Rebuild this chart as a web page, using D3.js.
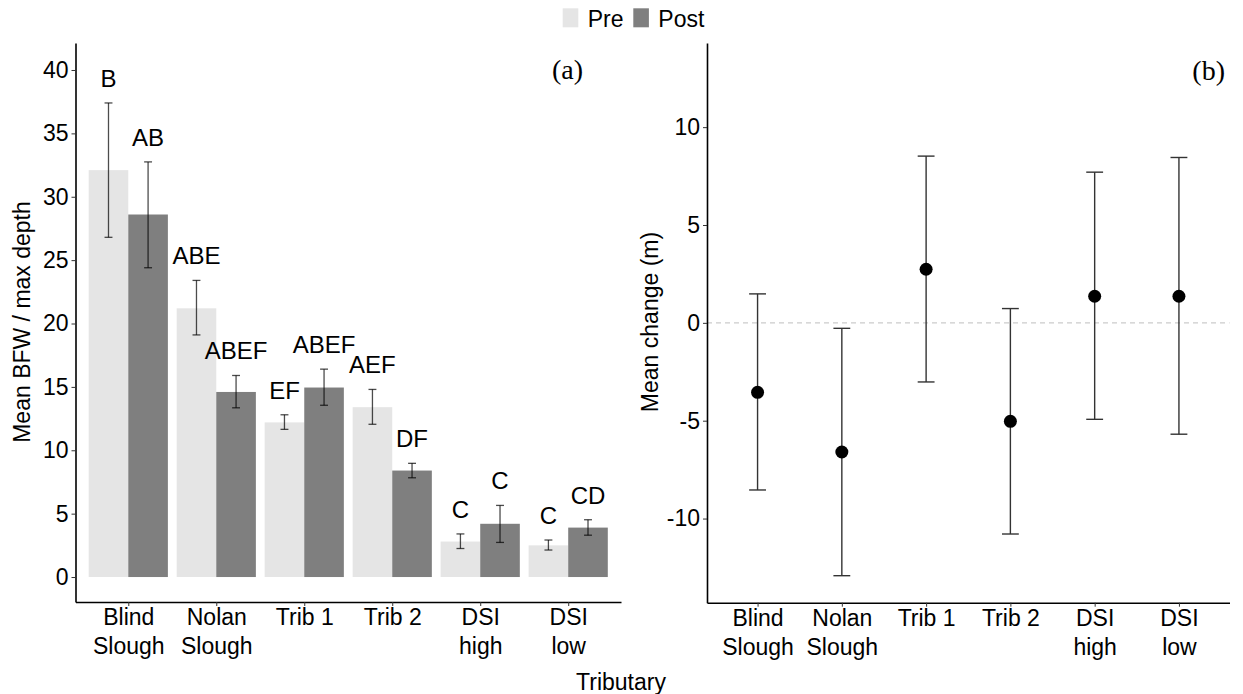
<!DOCTYPE html>
<html>
<head>
<meta charset="utf-8">
<script src="https://cdn.jsdelivr.net/npm/d3@7"></script>
<style>
  body { margin: 0; background: #fff; }
  svg text { font-family: "Liberation Sans", Arial, sans-serif; fill: #000; }
  .axis path, .axis line { stroke: #000; }
  .axis .tick line { stroke: #333; }
</style>
</head>
<body>
<div id="chart"></div>
<script>
// tributaries and tick labels (two lines each)
const tribs = ["Blind Slough", "Nolan Slough", "Trib 1", "Trib 2", "DSI high", "DSI low"];
const tribLabels = [["Blind", "Slough"], ["Nolan", "Slough"], ["Trib 1"], ["Trib 2"], ["DSI", "high"], ["DSI", "low"]];
const periods = ["Pre", "Post"];

// panel (a): mean BFW / max depth with error bars
const preMean = [32.1, 21.2, 12.2, 13.4, 2.8, 2.5];
const preLo = [26.8, 19.1, 11.65, 12.05, 2.25, 2.13];
const preHi = [37.4, 23.4, 12.8, 14.8, 3.4, 2.92];
const postMean = [28.6, 14.6, 14.95, 8.4, 4.2, 3.9];
const postLo = [24.4, 13.35, 13.55, 7.83, 2.73, 3.3];
const postHi = [32.75, 15.9, 16.4, 8.97, 5.65, 4.52];
const preLetters = ["B", "ABE", "EF", "AEF", "C", "C"];
const postLetters = ["AB", "ABEF", "ABEF", "DF", "C", "CD"];

// panel (b): mean change (m)
const change = [-3.55, -6.6, 2.74, -5.03, 1.36, 1.36];
const changeLo = [-8.54, -12.92, -3.02, -10.79, -4.93, -5.69];
const changeHi = [1.48, -0.28, 8.52, 0.73, 7.7, 8.45];

const aTicks = [0, 5, 10, 15, 20, 25, 30, 35, 40];
const bTicks = [-10, -5, 0, 5, 10];

const colors = {Pre: "#e5e5e5", Post: "#7f7f7f"};

const barData = [];
tribs.forEach((t, i) => {
    barData.push({trib: t, period: "Pre", mean: preMean[i], lo: preLo[i], hi: preHi[i], letter: preLetters[i]});
    barData.push({trib: t, period: "Post", mean: postMean[i], lo: postLo[i], hi: postHi[i], letter: postLetters[i]});
});
const changeData = tribs.map((t, i) => ({trib: t, mean: change[i], lo: changeLo[i], hi: changeHi[i]}));

const W = 1243, H = 694;
const svg = d3.select("#chart").append("svg")
    .attr("width", W)
    .attr("height", H);

function tickLabels(axisG) {
    axisG.selectAll(".tick text").each(function (d) {
        const t = d3.select(this);
        const lines = tribLabels[tribs.indexOf(d)];
        t.text(null);
        lines.forEach((l, k) => {
            t.append("tspan").attr("x", 0).attr("dy", k === 0 ? "0.71em" : "1.25em").text(l);
        });
    });
}

// ---------- panel (a) ----------
const ax = d3.scalePoint().domain(tribs).range([75.5, 621]).padding(0.6);
const aStep = ax.step();
const ax1 = d3.scaleBand().domain(periods).range([-0.45 * aStep, 0.45 * aStep]);
const ay = d3.scaleLinear().domain([-1.97, 42.13]).range([602, 43]);

const pa = svg.append("g");

pa.selectAll("rect.bar")
    .data(barData)
    .enter().append("rect")
    .attr("class", "bar")
    .attr("x", d => ax(d.trib) + ax1(d.period))
    .attr("width", ax1.bandwidth())
    .attr("y", d => ay(d.mean))
    .attr("height", d => ay(0) - ay(d.mean))
    .attr("fill", d => colors[d.period]);

const capA = ax1.bandwidth() * 0.2;
const errA = pa.selectAll("g.err")
    .data(barData)
    .enter().append("g")
    .attr("class", "err")
    .attr("stroke", "#000")
    .attr("stroke-opacity", 0.7)
    .attr("stroke-width", 1.3);
errA.append("line")
    .attr("x1", d => ax(d.trib) + ax1(d.period) + ax1.bandwidth() / 2)
    .attr("x2", d => ax(d.trib) + ax1(d.period) + ax1.bandwidth() / 2)
    .attr("y1", d => ay(d.lo))
    .attr("y2", d => ay(d.hi));
[d => d.lo, d => d.hi].forEach(f => {
    errA.append("line")
        .attr("x1", d => ax(d.trib) + ax1(d.period) + ax1.bandwidth() / 2 - capA / 2)
        .attr("x2", d => ax(d.trib) + ax1(d.period) + ax1.bandwidth() / 2 + capA / 2)
        .attr("y1", d => ay(f(d)))
        .attr("y2", d => ay(f(d)));
});

pa.selectAll("text.letter")
    .data(barData)
    .enter().append("text")
    .attr("class", "letter")
    .attr("x", d => ax(d.trib) + ax1(d.period) + ax1.bandwidth() / 2)
    .attr("y", d => ay(d.hi) - 16)
    .attr("text-anchor", "middle")
    .style("font-size", "24px")
    .text(d => d.letter);

pa.append("g")
    .attr("class", "axis")
    .attr("transform", "translate(75.5,0)")
    .call(d3.axisLeft(ay).tickValues(aTicks).tickFormat(d => String(d)).tickSize(4).tickSizeOuter(0));
const aXAxis = pa.append("g")
    .attr("class", "axis")
    .attr("transform", "translate(0,602)")
    .call(d3.axisBottom(ax).tickSize(4).tickSizeOuter(0));
tickLabels(aXAxis);

pa.append("text")
    .attr("transform", "rotate(-90)")
    .attr("x", -322)
    .attr("y", 30)
    .attr("text-anchor", "middle")
    .style("font-size", "23px")
    .text("Mean BFW / max depth");

pa.append("text")
    .attr("x", 583)
    .attr("y", 79)
    .attr("text-anchor", "end")
    .style("font-family", "'Liberation Serif', 'Times New Roman', serif")
    .style("font-size", "28px")
    .text("(a)");

// ---------- panel (b) ----------
const bx = d3.scalePoint().domain(tribs).range([707, 1229.5]).padding(0.6);
const by = d3.scaleLinear().domain([-14.3, 14.3]).range([602.7, 43]);

const pb = svg.append("g");

pb.append("line")
    .attr("x1", 707).attr("x2", 1229.5)
    .attr("y1", by(0)).attr("y2", by(0))
    .attr("stroke", "#cccccc")
    .attr("stroke-width", 1.3)
    .attr("stroke-dasharray", "5,4");

const capB = bx.step() * 0.2;
const errB = pb.selectAll("g.errb")
    .data(changeData)
    .enter().append("g")
    .attr("class", "errb")
    .attr("stroke", "#333")
    .attr("stroke-width", 1.4);
errB.append("line")
    .attr("x1", d => bx(d.trib)).attr("x2", d => bx(d.trib))
    .attr("y1", d => by(d.lo)).attr("y2", d => by(d.hi));
[d => d.lo, d => d.hi].forEach(f => {
    errB.append("line")
        .attr("x1", d => bx(d.trib) - capB / 2)
        .attr("x2", d => bx(d.trib) + capB / 2)
        .attr("y1", d => by(f(d))).attr("y2", d => by(f(d)));
});

pb.selectAll("circle")
    .data(changeData)
    .enter().append("circle")
    .attr("cx", d => bx(d.trib))
    .attr("cy", d => by(d.mean))
    .attr("r", 6.5)
    .attr("fill", "#000");

pb.append("g")
    .attr("class", "axis")
    .attr("transform", "translate(707,0)")
    .call(d3.axisLeft(by).tickValues(bTicks).tickFormat(d => String(d)).tickSize(4).tickSizeOuter(0));
const bXAxis = pb.append("g")
    .attr("class", "axis")
    .attr("transform", "translate(0,602.7)")
    .call(d3.axisBottom(bx).tickSize(4).tickSizeOuter(0));
tickLabels(bXAxis);

pb.append("text")
    .attr("transform", "rotate(-90)")
    .attr("x", -322)
    .attr("y", 658)
    .attr("text-anchor", "middle")
    .style("font-size", "23px")
    .text("Mean change (m)");

pb.append("text")
    .attr("x", 1225)
    .attr("y", 80)
    .attr("text-anchor", "end")
    .style("font-family", "'Liberation Serif', 'Times New Roman', serif")
    .style("font-size", "28px")
    .text("(b)");

// axis styling
svg.selectAll(".axis path").attr("stroke-width", 1.6);
svg.selectAll(".axis .tick text").style("font-size", "23px").attr("fill", "#000");
svg.selectAll(".axis .tick line").attr("stroke-width", 1);

// shared x title
svg.append("text")
    .attr("x", 621)
    .attr("y", 690)
    .attr("text-anchor", "middle")
    .style("font-size", "23px")
    .text("Tributary");

// legend
const legendX = [562.7, 633.3];
const legend = svg.append("g");
periods.forEach((p, i) => {
    legend.append("rect")
        .attr("x", legendX[i]).attr("y", 8.3)
        .attr("width", 15.6).attr("height", 19)
        .attr("fill", colors[p]);
    legend.append("text")
        .attr("x", legendX[i] + 25)
        .attr("y", 26.5)
        .style("font-size", "23px")
        .text(p);
});
</script>
</body>
</html>
